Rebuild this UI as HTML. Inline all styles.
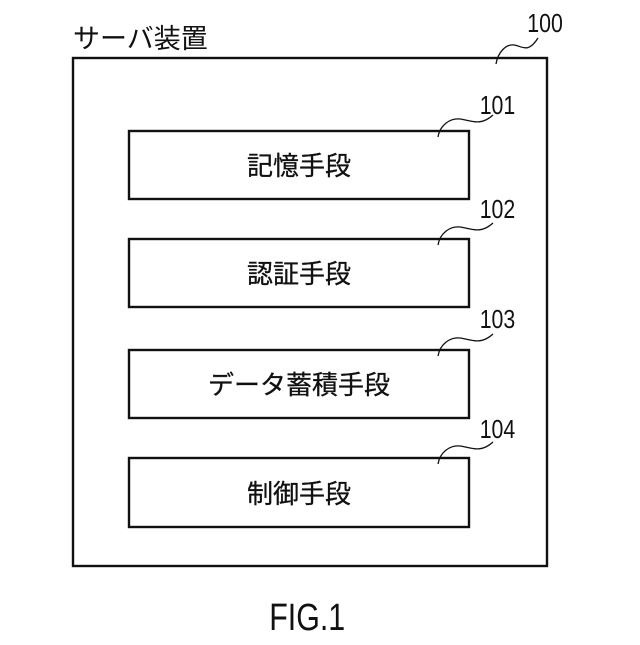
<!DOCTYPE html>
<html><head><meta charset="utf-8"><style>
html,body{margin:0;padding:0;background:#fff;}
svg text{font-family:"Liberation Sans","Noto Sans CJK JP",sans-serif;fill:#111;}
</style></head><body>
<svg width="640" height="640" viewBox="0 0 640 640" xmlns="http://www.w3.org/2000/svg">
<g fill="none" stroke="#111" stroke-width="2.4">
<rect x="73" y="58" width="474" height="508"/>
<rect x="129" y="131" width="340" height="68"/>
<rect x="129" y="239" width="340" height="68"/>
<rect x="129" y="350" width="340" height="68"/>
<rect x="129" y="458" width="340" height="69"/>
</g>
<g fill="none" stroke="#111" stroke-width="1.3">
<path d="M496,64 C498,52 506,44 514,45 C522,46 528,54 538,38"/>
<path d="M438,137 C440,125 450,118 460,119 C470,120 480,127 493,115"/>
<path d="M438,245 C440,233 450,226 460,227 C470,228 480,235 493,223"/>
<path d="M438,356 C440,344 450,337 460,338 C470,339 480,346 493,334"/>
<path d="M438,464 C440,452 450,445 460,446 C470,447 480,454 493,442"/>
</g>
<text x="73" y="48" font-size="27">サーバ装置</text>
<g font-size="26" transform="scale(0.82,1)">
<text x="643" y="32">100</text>
<text x="585" y="114">101</text>
<text x="585" y="218">102</text>
<text x="585" y="328">103</text>
<text x="585" y="438">104</text>
</g>
<g font-size="26" text-anchor="middle" stroke="#111" stroke-width="0.3">
<text x="299" y="175">記憶手段</text>
<text x="299" y="283">認証手段</text>
<text x="299" y="394">データ蓄積手段</text>
<text x="299" y="503">制御手段</text>
</g>
<text x="384" y="630" font-size="38" text-anchor="middle" transform="scale(0.8,1)">FIG.1</text>
</svg>
</body></html>
